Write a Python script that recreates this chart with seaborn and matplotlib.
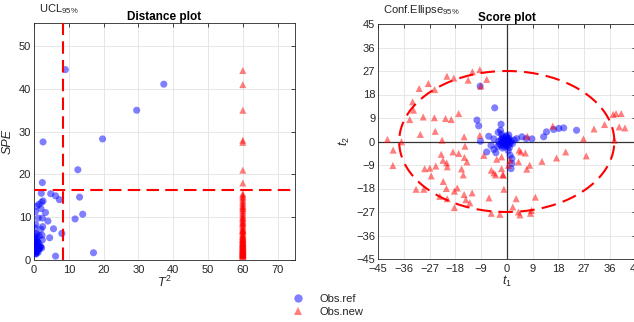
import numpy as np
import pandas as pd
import matplotlib
matplotlib.use("Agg")
import matplotlib.pyplot as plt
from matplotlib.lines import Line2D
import seaborn as sns

# ---------------- data ----------------
# Distance plot: reference observations (T^2, SPE)
ref_T2 = [9.0, 37.3, 29.5, 19.7, 2.6, 12.6, 2.4, 2.1, 4.8, 6.2, 7.3, 13.1, 14.0, 11.8,
          8.0, 5.6, 4.5, 6.2, 17.1, 4.0, 3.3, 2.4, 1.2, 2.6, 2.2, 1.4, 0.8, 0.4, 0.5,
          0.3, 0.6, 2.0, 2.5, 2.0, 2.3, 2.4, 1.5, 1.8, 1.0, 0.2, 0.5, 0.9, 1.3, 0.3,
          0.6, 1.1, 0.4, 0.2, 0.7, 1.6, 0.3, 0.8, 0.5, 1.2, 0.4, 0.9, 0.2, 0.6, 1.9,
          0.3, 0.7, 1.0, 0.4, 0.5, 2.2, 0.8, 0.3, 1.4]
ref_SPE = [44.5, 41.1, 35.0, 28.3, 27.6, 21.1, 18.1, 15.6, 15.5, 15.0, 14.1, 14.7, 10.7, 9.6,
           6.2, 7.3, 5.2, 0.9, 1.7, 9.1, 11.1, 9.8, 9.8, 13.8, 13.5, 13.0, 12.6, 11.3, 8.3,
           7.5, 6.2, 12.0, 7.8, 7.2, 5.8, 4.7, 5.7, 3.0, 4.2, 5.5, 4.8, 3.6, 2.5, 4.0,
           2.9, 3.3, 2.2, 3.1, 1.9, 2.7, 1.6, 2.4, 3.8, 1.8, 2.6, 4.5, 2.0, 1.4, 3.2,
           3.5, 5.0, 2.1, 4.3, 1.5, 2.8, 6.0, 2.3, 3.9]

# Distance plot: new observations (all at T^2 = 60)
new_SPE = [44.3, 41.0, 35.0, 28.0, 27.5, 21.0, 18.0,
           15.5, 15.2, 14.8, 14.5, 14.0, 13.6, 13.2, 12.8, 12.5, 12.0, 11.6, 11.2, 10.8,
           10.4, 10.0, 9.6, 9.2, 8.9, 8.5, 8.2, 7.8, 7.5, 7.2, 6.9, 6.6, 6.3, 6.0, 5.8,
           5.5, 5.3, 5.0, 4.8, 4.6, 4.4, 4.2, 4.0, 3.8, 3.6, 3.5, 3.3, 3.1, 3.0, 2.8,
           2.7, 2.5, 2.4, 2.2, 2.1, 2.0, 1.9, 1.8, 1.7, 1.6, 1.5, 1.4, 1.3, 1.2, 1.1,
           1.0, 0.9, 0.8, 3.4, 2.6, 4.1, 5.6, 2.3, 1.75, 3.9, 6.8, 12.2, 9.8, 7.0, 4.5,
           2.9, 1.45, 3.7, 5.1, 2.05, 8.7, 1.25, 4.9, 3.2, 2.45]
new_T2_value = 60.0

# Score plot: reference observations (t1, t2)
ref_t1 = [-9.3, -4.2, -10.4, -9.8, -2.0, -6.3, -9.2, -7.0, 3.5, 5.3, 6.8, 8.8, 12.9, 13.9,
          16.4, 18.2, 19.9, 24.4, 1.2, 1.8, 1.8, 1.5, -5.5, -4.5, -3.8, -3.0, -2.2, -1.8,
          -4.5, 0.5, -1.5, -0.5, 0.2, -1.2, -0.8, 0.6, -1.6, 1.0, -0.3, -2.0, 0.8, -1.0,
          0.3, -2.5, 1.5, -0.2, -1.4, 0.0, -0.6, 0.4, -1.9, 1.2, -0.9, -0.1, 0.9, -2.8,
          -1.1, 0.1, -0.4, 2.0, -1.7, 2.6, -3.2, 0.7]
ref_t2 = [21.2, 12.9, 8.2, 6.0, 6.6, 2.0, 0.1, -4.0, 1.1, 1.8, 1.1, 1.0, 1.8, 3.7,
          4.6, 5.0, 5.2, 4.3, -5.3, -6.5, -8.4, -10.4, -1.5, -3.0, -4.3, 3.5, 4.3, 2.8,
          1.0, -3.5, -2.5, 0.3, -0.4, 0.8, -1.2, 0.5, -0.3, -1.0, 1.5, 0.5, 1.2, -2.0,
          -1.8, -1.0, 0.2, -0.8, 1.9, 0.0, -0.2, 0.9, -1.5, -0.3, 0.1, 2.2, -2.4, 0.0,
          -0.7, 0.4, -1.4, -0.8, 1.2, 0.6, -1.9, 2.5]

# Score plot: new observations (t1, t2)
new_t1 = [-41.7, -39.7, -36.8, -39.8, -30.2, -32.6, -33.9, -29.2, -25.3, -21.4, -19.4, -16.8,
          -25.0, -30.6, -27.4, -25.2, -20.9, -18.5, -13.5, -12.0, -9.4, -7.0, -9.1, -32.9,
          -22.6, -14.9, -9.4, -22.9, -18.8, -16.8, -14.6, -22.3, -21.0, -20.8, -14.8, -13.9,
          -28.7, -26.9, -24.8, -26.4, -22.2, -15.8, -15.2, -31.7, -29.0, -21.1, -17.3, -18.3,
          -23.4, -20.8, -14.9, -12.1, -14.3, -18.3, -8.0, -5.4, -2.4, -6.2, -5.4, -3.9,
          -1.4, -1.0, 2.1, 3.3, 4.1, 4.6, 8.3, 8.6, 10.0, 4.1, 8.0, 7.0, 12.3, 17.4, 20.6,
          27.8, 16.1, 30.5, 34.2, 37.2, 38.2, 40.0, 39.3, 41.3, 26.8, 37.6, 7.2, 4.3, 6.5,
          -3.5, -1.8, 1.2, 4.9, -4.5, 0.6, -1.8, -12.9, -1.2]
new_t2 = [0.8, -3.3, -0.1, -9.2, 2.7, 12.0, 8.4, 9.4, 9.1, 8.8, 8.4, 10.7,
          3.9, 20.3, 22.2, 19.9, 25.0, 24.3, 23.5, 26.7, 27.5, 23.8, 21.2, 15.2,
          0.5, 1.8, 2.4, -4.9, -4.0, -4.6, -1.8, -7.2, -8.2, -9.7, -6.1, -7.8,
          -10.4, -10.2, -9.4, -13.2, -15.3, -10.5, -12.8, -18.3, -18.3, -18.0, -17.8, -19.0,
          -21.0, -21.9, -20.3, -19.7, -22.3, -25.3, -5.3, -27.5, -27.9, -21.6, -11.0, -12.8,
          -12.7, -18.3, -25.1, -21.9, -27.0, -28.1, -27.5, -26.4, -21.3, -7.8, -9.1, -10.6, -7.6, -6.3, -4.0,
          -5.5, 5.9, 4.8, 6.5, 10.4, 10.7, 10.7, 5.6, 5.2, 1.0, 0.5, 2.0, -3.3, -4.4,
          -6.8, -5.9, -7.2, -4.0, -12.0, -9.1, -10.4, -23.5, -12.9]

UCL_T2 = 8.2
UCL_SPE = 16.3
ellipse_a = 37.6
ellipse_b = 27.0

labels = ["Obs.ref", "Obs.new"]

# ---------------- tables ----------------
dist_df = pd.concat([
    pd.DataFrame({"T2": ref_T2, "SPE": ref_SPE, "group": labels[0]}),
    pd.DataFrame({"T2": np.full(len(new_SPE), new_T2_value), "SPE": new_SPE, "group": labels[1]}),
], ignore_index=True)
score_df = pd.concat([
    pd.DataFrame({"t1": ref_t1, "t2": ref_t2, "group": labels[0]}),
    pd.DataFrame({"t1": new_t1, "t2": new_t2, "group": labels[1]}),
], ignore_index=True)

# ---------------- style ----------------
sns.set_theme(style="whitegrid")
plt.rcParams["font.family"] = ["Liberation Sans", "DejaVu Sans"]
plt.rcParams["mathtext.fontset"] = "custom"
plt.rcParams["mathtext.rm"] = "Liberation Sans"
plt.rcParams["mathtext.it"] = "Liberation Sans:italic"
plt.rcParams["mathtext.bf"] = "Liberation Sans:bold"

palette = {labels[0]: (0.0, 0.0, 1.0), labels[1]: (1.0, 0.0, 0.0)}
markers = {labels[0]: "o", labels[1]: "^"}
txt_col = "#262626"

fig = plt.figure(figsize=(6.34, 3.22), dpi=100)
ax1 = fig.add_axes([34 / 634, 1 - 260 / 322, 261 / 634, 237 / 322])
ax2 = fig.add_axes([378 / 634, 1 - 259 / 322, 257.5 / 634, 235 / 322])


def style_axes(ax):
    ax.set_facecolor("white")
    for s in ax.spines.values():
        s.set_color("#262626")
        s.set_linewidth(0.6)
    ax.grid(True, color="#e3e3e3", linewidth=0.6)
    ax.tick_params(direction="in", length=3, width=0.6, top=True, right=True,
                   labelsize=8, colors=txt_col, color="#262626")
    ax.tick_params(axis="x", pad=3.5)
    ax.tick_params(axis="y", pad=2)
    ax.set_axisbelow(True)


sns.scatterplot(data=dist_df, x="T2", y="SPE", hue="group", style="group",
                palette=palette, markers=markers, s=26, alpha=0.5, linewidth=0,
                ax=ax1, legend=False, zorder=3)
style_axes(ax1)
ax1.set_xlim(0, 75)
ax1.set_ylim(0, 55.4)
ax1.set_xticks(np.arange(0, 71, 10))
ax1.set_yticks(np.arange(0, 51, 10))
dash = (0, (6.0, 3.0))
ax1.axvline(UCL_T2, color="red", lw=1.5, ls=dash, zorder=4)
ax1.axhline(UCL_SPE, color="red", lw=1.5, ls=dash, zorder=4)
ax1.set_xlabel(r"$T^2$", fontsize=9, color=txt_col, labelpad=0)
ax1.set_ylabel("SPE", fontsize=9, color=txt_col, style="italic", labelpad=4)
ax1.set_title("Distance plot", fontsize=8.5, fontweight="bold", color="black", pad=2.5)
ax1.text(0.02, 1.03, r"UCL$_{95\%}$", transform=ax1.transAxes, fontsize=8,
         color=txt_col, ha="left", va="bottom")

sns.scatterplot(data=score_df, x="t1", y="t2", hue="group", style="group",
                palette=palette, markers=markers, s=26, alpha=0.5, linewidth=0,
                ax=ax2, legend=False, zorder=3)
style_axes(ax2)
ax2.set_xlim(-45, 45)
ax2.set_ylim(-45, 45)
ax2.set_xticks(np.arange(-45, 46, 9))
ax2.set_yticks(np.arange(-45, 46, 9))
ax2.axhline(0, color="#333333", lw=0.9, zorder=2)
ax2.axvline(0, color="#333333", lw=0.9, zorder=2)
theta = np.linspace(0, 2 * np.pi, 400)
ax2.plot(ellipse_a * np.cos(theta), ellipse_b * np.sin(theta), color="red",
         lw=1.5, ls=(0, (7.0, 3.5)), zorder=4)
ax2.set_xlabel(r"$t_1$", fontsize=9, color=txt_col, labelpad=0)
ax2.set_ylabel(r"$t_2$", fontsize=9, color=txt_col, labelpad=3)
ax2.set_title("Score plot", fontsize=8.5, fontweight="bold", color="black", pad=2.5)
ax2.text(0.02, 1.03, r"Conf.Ellipse$_{95\%}$", transform=ax2.transAxes, fontsize=8,
         color=txt_col, ha="left", va="bottom")

handles = [
    Line2D([], [], marker="o", ls="none", color=(0, 0, 1), alpha=0.5, markersize=6,
           markeredgewidth=0, label=labels[0]),
    Line2D([], [], marker="^", ls="none", color=(1, 0, 0), alpha=0.5, markersize=6,
           markeredgewidth=0, label=labels[1]),
]
leg = fig.legend(handles=handles, loc="center", bbox_to_anchor=(0.515, 0.052),
                 frameon=False, fontsize=8, handletextpad=1.2, labelspacing=0.3,
                 handlelength=1.5)
for t in leg.get_texts():
    t.set_color(txt_col)

fig.savefig("out.png", dpi=100)
